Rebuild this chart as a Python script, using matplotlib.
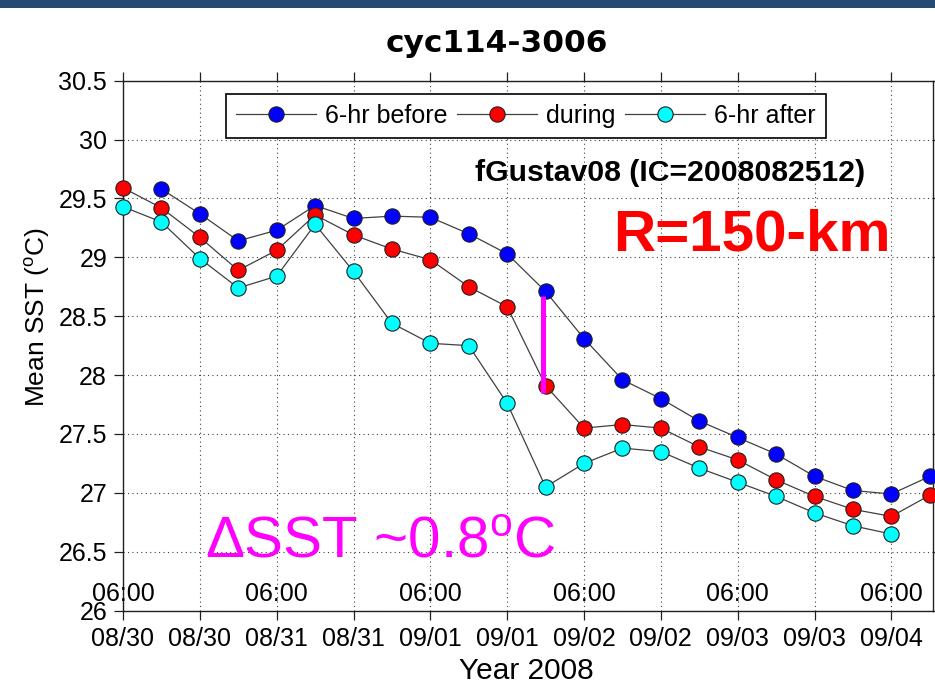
import numpy as np
import pandas as pd
import matplotlib
matplotlib.use("Agg")
import matplotlib.pyplot as plt
from matplotlib.patches import Rectangle

plt.rcParams['font.family'] = ['Liberation Sans', 'DejaVu Sans']
plt.rcParams['mathtext.fontset'] = 'custom'
plt.rcParams['mathtext.rm'] = 'Liberation Sans'
plt.rcParams['mathtext.it'] = 'Liberation Sans:italic'
plt.rcParams['mathtext.bf'] = 'Liberation Sans:bold'

# ---------------- data ----------------
times = pd.date_range('2008-08-30 06:00', '2008-09-04 12:00', freq='6h')
sst_before = [np.nan, 29.58, 29.37, 29.14, 29.23, 29.44, 29.33, 29.35, 29.34, 29.20, 29.03,
              28.71, 28.31, 27.96, 27.80, 27.61, 27.47, 27.33, 27.14, 27.02, 26.99, 27.14]
sst_during = [29.59, 29.42, 29.17, 28.89, 29.06, 29.36, 29.19, 29.07, 28.98, 28.75, 28.58,
              27.91, 27.55, 27.58, 27.55, 27.39, 27.28, 27.11, 26.97, 26.86, 26.80, 26.98]
sst_after = [29.43, 29.30, 28.99, 28.74, 28.84, 29.28, 28.88, 28.44, 28.27, 28.25, 27.76,
             27.05, 27.25, 27.38, 27.35, 27.21, 27.09, 26.97, 26.83, 26.72, 26.65, np.nan]
series_labels = ['6-hr before', 'during', '6-hr after']
series_colors = ['#0000ff', '#ff0000', '#00ffff']

tick_times = pd.date_range('2008-08-30 06:00', periods=11, freq='12h')
tick_labels = [t.strftime('%m/%d') for t in tick_times]
hour_labels = [t.strftime('%H:%M') if t.hour == 6 else '' for t in tick_times]
yticks = [26, 26.5, 27, 27.5, 28, 28.5, 29, 29.5, 30, 30.5]
ytick_labels = ['26', '26.5', '27', '27.5', '28', '28.5', '29', '29.5', '30', '30.5']

delta_index = 11
delta_top = 28.67
delta_bottom = 27.85

# ---------------- figure ----------------
fig = plt.figure(figsize=(9.35, 6.92), dpi=100)
fig.patches.append(Rectangle((0, 1 - 8 / 692), 1, 8 / 692, transform=fig.transFigure,
                             facecolor='#244b73', edgecolor='none', zorder=0))

ax = fig.add_axes([123 / 935, (692 - 610.6) / 692, 810 / 935, 529.9 / 692])

handles = []
for vals, lab, col in zip([sst_before, sst_during, sst_after], series_labels, series_colors):
    h, = ax.plot(times, vals, '-o', color='#404040', lw=0.9, marker='o', markersize=11,
                 markerfacecolor=col, markeredgecolor='#202020', markeredgewidth=0.8,
                 label=lab, zorder=3, clip_on=False)
    handles.append(h)

ax.vlines(times[delta_index] - pd.Timedelta('20min'), delta_bottom, delta_top,
          color='#ff00ff', lw=3.6, zorder=3.5)

ax.set_ylim(26, 30.5)
ax.set_xlim(times[0], times[-1] + pd.Timedelta('30min'))
ax.set_yticks(yticks)
ax.set_yticklabels(ytick_labels)
ax.set_xticks(tick_times)
ax.set_xticklabels(tick_labels)

ax.tick_params(axis='both', direction='out', length=6.5, width=0.9, labelsize=18, pad=5,
               top=True, right=True, color='#202020')
ax.grid(True, linestyle=(0, (1, 3)), color='#404040', lw=0.8)
for s in ax.spines.values():
    s.set_color('#202020')
    s.set_linewidth(1.0)

for t, hl in zip(tick_times, hour_labels):
    if hl:
        ax.annotate(hl, xy=(t, 0), xycoords=('data', 'axes fraction'), xytext=(0, 6.9),
                    textcoords='offset points', ha='center', va='baseline', fontsize=18)

ax.set_ylabel('Mean SST ($^{\\rm o}$C)', fontsize=19)
ax.yaxis.set_label_coords(-0.088, 0.554)
ax.set_xlabel('Year 2008', fontsize=21.5)
ax.xaxis.set_label_coords(0.4975, -0.0875)

leg = fig.legend(handles=handles, loc='upper left', bbox_to_anchor=(226 / 935, 1 - 94 / 692),
                 ncol=3, fontsize=18, frameon=True, fancybox=False, framealpha=1,
                 edgecolor='#000000', handlelength=3.2, handletextpad=0.35,
                 columnspacing=0.4, borderpad=0.4, borderaxespad=0, numpoints=1)
leg.get_frame().set_linewidth(1.2)

fig.text(497 / 935, 1 - 51.7 / 692, 'cyc114-3006', ha='center', va='baseline',
         fontsize=22.5, fontweight='bold', family='DejaVu Sans')
fig.text(475 / 935, 1 - 181 / 692, 'fGustav08 (IC=2008082512)', ha='left', va='baseline',
         fontsize=21.7, fontweight='bold')
fig.text(613 / 935, 1 - 250 / 692, 'R=150-km', ha='left', va='baseline',
         fontsize=42, fontweight='bold', color='#ff0000')
fig.text(205 / 935, 1 - 557 / 692, 'ΔSST ~0.8$^{\\rm o}$C', ha='left', va='baseline',
         fontsize=42, color='#ff00ff')

fig.savefig('out.png', dpi=100)
